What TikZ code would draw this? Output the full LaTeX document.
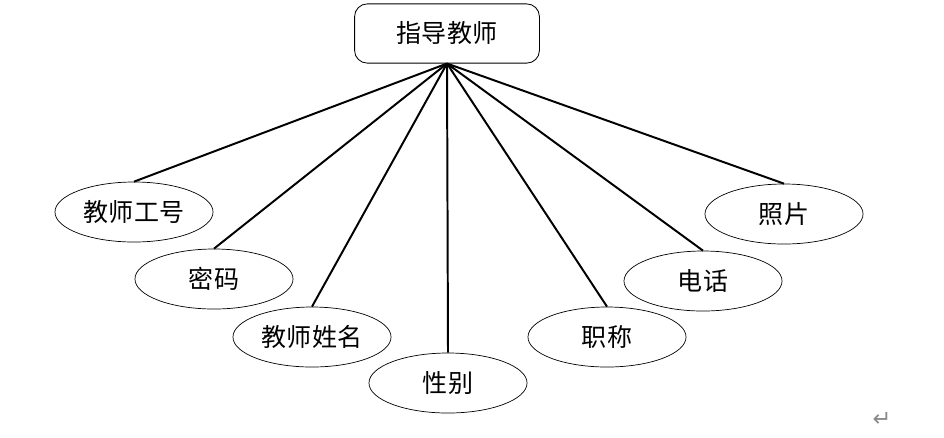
\documentclass[tikz,border=0pt]{standalone}
\usepackage{fontspec}
\usepackage{tikz}
\usetikzlibrary{shapes.geometric}
\newfontfamily\cjk{Noto Sans CJK SC}
\newfontfamily\symfont{DejaVu Sans}
\definecolor{inkline}{HTML}{000000}
\definecolor{markgray}{HTML}{8A8A8A}

\begin{document}
\begin{tikzpicture}[x=0.025cm, y=-0.025cm,
  entity/.style={draw=inkline, line width=0.6pt, rounded corners=9pt,
    minimum width=4.62cm, minimum height=1.48cm, inner sep=0pt,
    font=\cjk\fontsize{17.8}{20}\selectfont},
  attrib/.style={ellipse, draw=inkline, line width=0.5pt,
    minimum width=3.95cm, minimum height=1.5cm, inner sep=0pt,
    font=\cjk\fontsize{17.8}{20}\selectfont},
  link/.style={inkline, line width=1.4pt}]
  \useasboundingbox (0,0) rectangle (944,437);
  % Entity
  \node[entity] (teacher) at (447,33.5) {指导教师};
  % Attributes
  \node[attrib] (tno)   at (134,212) {教师工号};
  \node[attrib] (pwd)   at (214,279) {密码};
  \node[attrib] (tname) at (312,337) {教师姓名};
  \node[attrib] (sex)   at (448,383) {性别};
  \node[attrib] (title) at (607,337) {职称};
  \node[attrib] (phone) at (703,281) {电话};
  \node[attrib] (photo) at (784,214) {照片};
  % Links
  \foreach \a in {tno,pwd,tname,sex,title,phone,photo}
    \draw[link] (teacher.south) -- (\a.north);
  % Paragraph mark
  \node[text=markgray, font=\symfont\fontsize{16}{17}\selectfont] (retmark) at (882,419) {↵};
\end{tikzpicture}
\end{document}
